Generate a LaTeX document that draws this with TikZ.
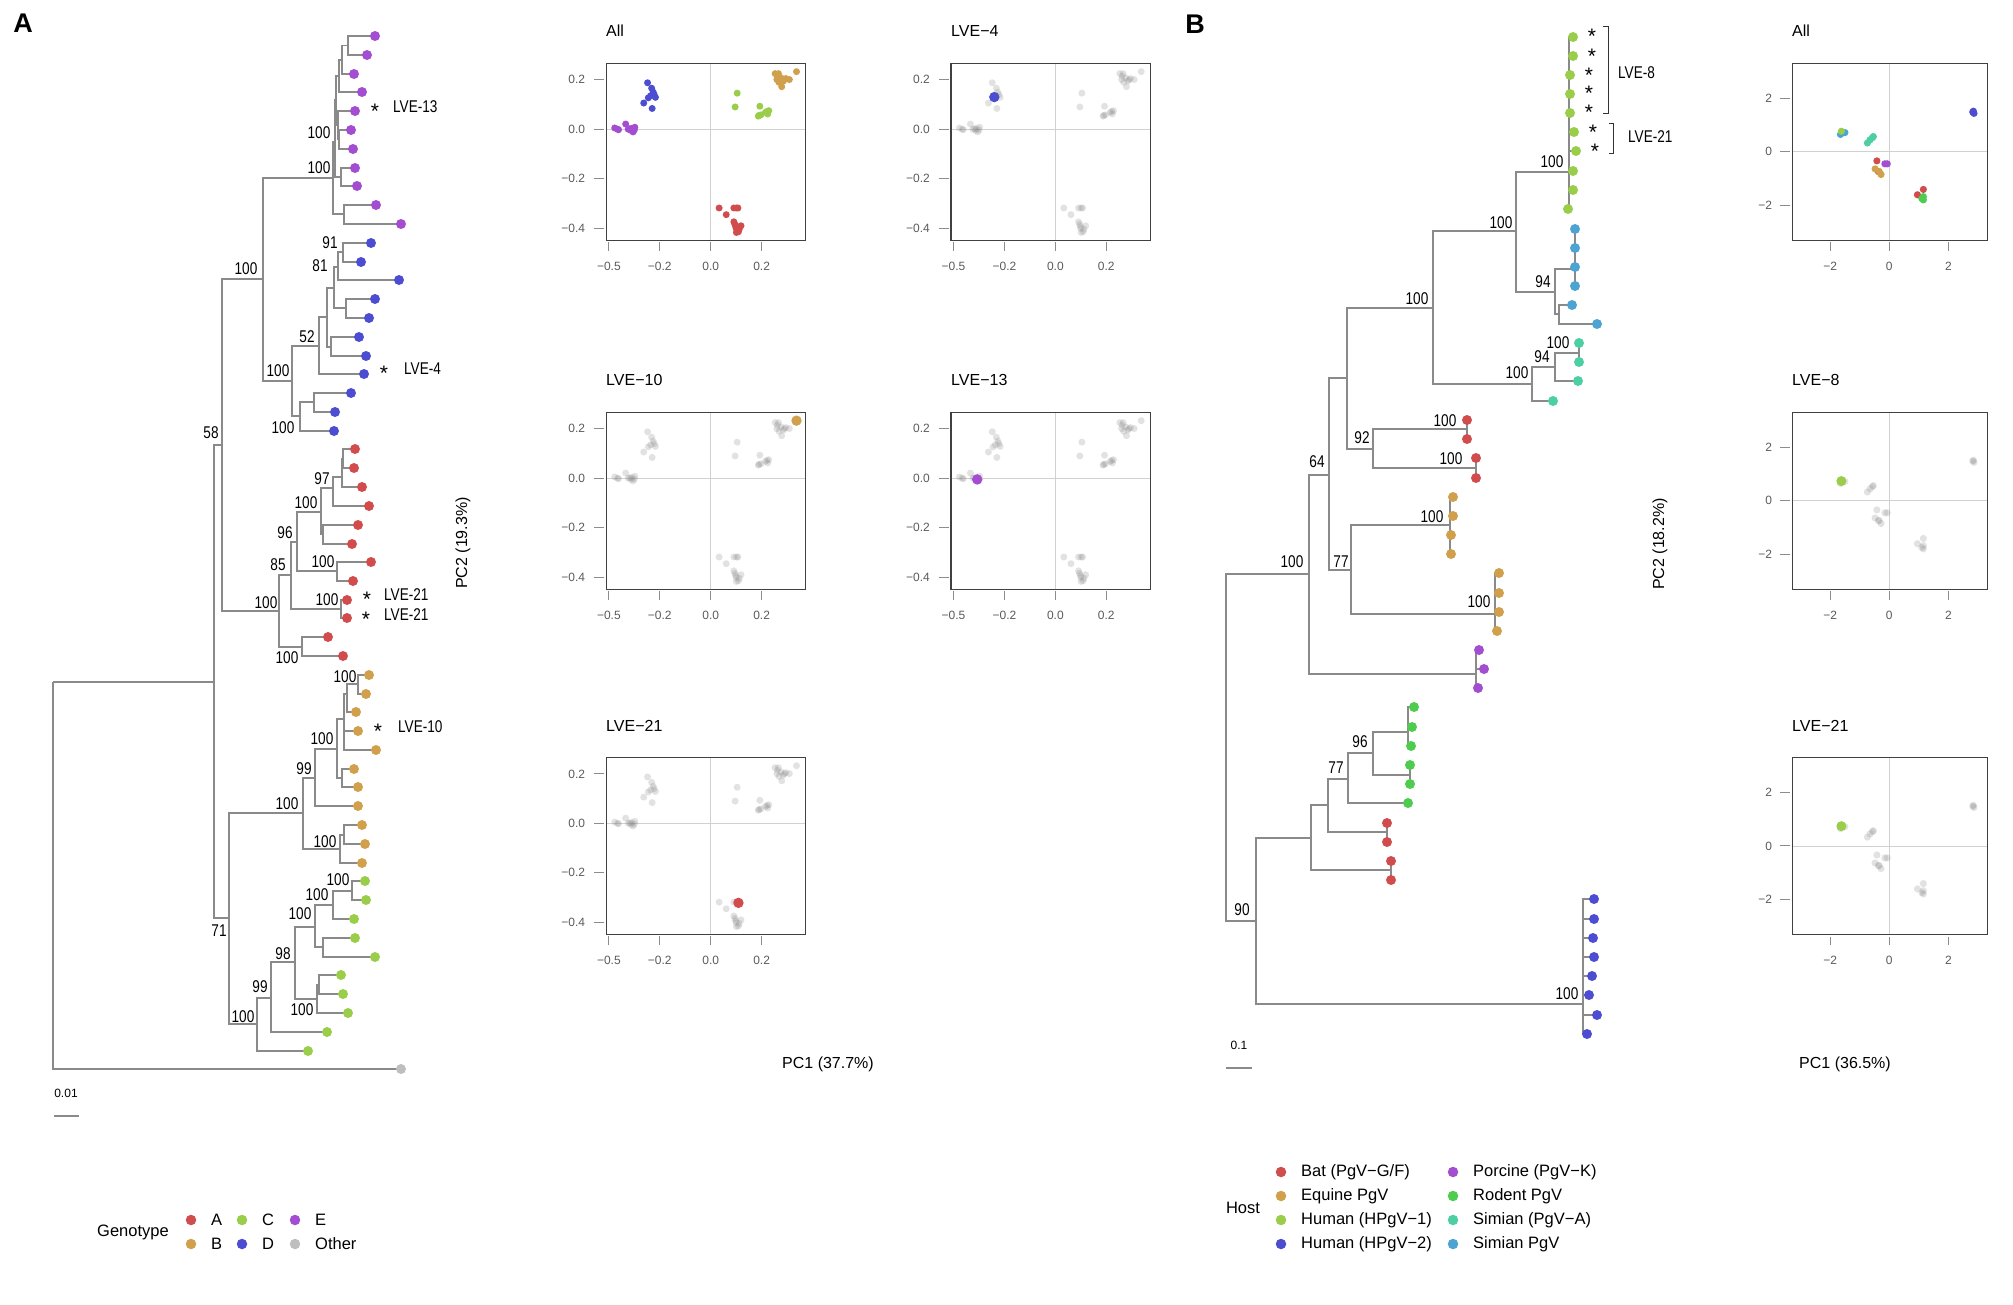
\documentclass[tikz,border=0pt]{standalone}
\usepackage{fontspec}
\setmainfont{Liberation Sans}
\usepackage{tikz}

\definecolor{cA}{HTML}{D14D4D}
\definecolor{cB}{HTML}{D1A04D}
\definecolor{cC}{HTML}{9ACD4A}
\definecolor{cD}{HTML}{4D4DD1}
\definecolor{cE}{HTML}{A34DD1}
\definecolor{cO}{HTML}{BEBEBE}
\definecolor{hRod}{HTML}{4DCC4D}
\definecolor{hSimA}{HTML}{4DCFA3}
\definecolor{hSim}{HTML}{4DA3D1}
\definecolor{branchc}{HTML}{8A8A8A}
\definecolor{tickc}{HTML}{5A5A5A}

% frame, grid and axes of one PCA panel (panel A scale)
\newcommand{\pcaframeA}{%
  \draw[gridln] (0,-0.45) -- (0,0.266) (-0.41,0) -- (0.372,0);
  \draw[frame] (-0.41,-0.45) rectangle (0.372,0.266);
  \foreach \v/\l in {-0.4/−0.5,-0.2/−0.2,0/0.0,0.2/0.2} {
    \draw[tickln] (\v,-0.45) ++(0,-2pt) -- ++(0,-8.5pt);
    \node[ticklab] at ([yshift=-26pt]\v,-0.45) {\l};
  }
  \foreach \v/\l in {0.2/0.2,0/0.0,-0.2/−0.2,-0.4/−0.4} {
    \draw[tickln] (-0.41,\v) ++(-2.3pt,0) -- ++(-10pt,0);
    \node[ticklab,anchor=east] at ([xshift=-21pt]-0.41,\v) {\l};
  }
}
% same for panel B scale
\newcommand{\pcaframeB}{%
  \draw[gridln] (0,-3.32) -- (0,3.30) (-3.28,0) -- (3.31,0);
  \draw[frame] (-3.28,-3.32) rectangle (3.31,3.30);
  \foreach \v/\l in {-2/−2,0/0,2/2} {
    \draw[tickln] (\v,-3.32) ++(0,-2pt) -- ++(0,-8.5pt);
    \node[ticklab] at ([yshift=-26pt]\v,-3.32) {\l};
    \draw[tickln] (-3.28,\v) ++(-2.3pt,0) -- ++(-10pt,0);
    \node[ticklab,anchor=east] at ([xshift=-20pt]-3.28,\v) {\l};
  }
}

% PCA scores
\def\ptsA{-0.248/0.188/cD,-0.232/0.166/cD,-0.226/0.150/cD,-0.236/0.135/cD,-0.217/0.129/cD,-0.245/0.127/cD,-0.263/0.106/cD,-0.230/0.084/cD,-0.222/0.140/cD,
-0.377/0.005/cE,-0.366/0.000/cE,-0.362/-0.002/cE,-0.334/0.021/cE,-0.324/0.000/cE,-0.313/-0.005/cE,-0.305/-0.011/cE,-0.298/0.008/cE,-0.310/0.003/cE,-0.300/-0.003/cE,-0.318/0.002/cE,
0.104/0.146/cC,0.096/0.090/cC,0.193/0.093/cC,0.187/0.053/cC,0.197/0.058/cC,0.221/0.072/cC,0.224/0.062/cC,0.215/0.068/cC,0.190/0.056/cC,0.228/0.075/cC,
0.253/0.225/cB,0.266/0.225/cB,0.276/0.208/cB,0.260/0.201/cB,0.289/0.201/cB,0.309/0.201/cB,0.279/0.172/cB,0.337/0.233/cB,0.268/0.190/cB,0.285/0.195/cB,0.295/0.205/cB,0.262/0.215/cB,
0.033/-0.319/cA,0.061/-0.346/cA,0.091/-0.319/cA,0.101/-0.319/cA,0.107/-0.319/cA,0.091/-0.375/cA,0.119/-0.391/cA,0.098/-0.394/cA,0.101/-0.418/cA,0.109/-0.415/cA,0.100/-0.402/cA,0.095/-0.385/cA,0.112/-0.405/cA}
\def\ptsB{2.82/1.49/cD,2.86/1.44/cD,2.84/1.52/cD,-1.60/0.70/hSim,-1.50/0.72/hSim,-1.65/0.65/hSim,-1.62/0.77/cC,
-0.74/0.33/hSimA,-0.65/0.45/hSimA,-0.54/0.57/hSimA,-0.57/0.53/hSimA,
-0.42/-0.34/cA,-0.37/-0.74/cA,0.95/-1.61/cA,1.15/-1.41/cA,-0.15/-0.45/cE,-0.07/-0.45/cE,
-0.48/-0.64/cB,-0.28/-0.85/cB,-0.34/-0.74/cB,1.15/-1.68/hRod,1.15/-1.80/hRod,1.10/-1.75/hRod}

\begin{document}
\begin{tikzpicture}[x=1pt,y=-1pt,
    branch/.style={draw=branchc,line width=1.1pt},
    tip/.style={circle,inner sep=0pt,minimum size=10pt,draw=none},
    bslab/.style={font=\fontsize{17}{17}\selectfont,inner sep=0pt,xscale=0.8},
    lvelab/.style={font=\fontsize{17}{17}\selectfont,inner sep=0pt,xscale=0.8},
    star/.style={font=\fontsize{21}{21}\selectfont,inner sep=0pt},
    brk/.style={draw=black!80,line width=1pt},
    panel/.style={font=\fontsize{27}{27}\selectfont\bfseries,inner sep=0pt},
    ptitle/.style={font=\fontsize{16}{16}\selectfont,inner sep=0pt},
    axlab/.style={font=\fontsize{16}{16}\selectfont,inner sep=0pt},
    ticklab/.style={font=\fontsize{12}{12}\selectfont,text=tickc,inner sep=0pt},
    frame/.style={draw=black!75,line width=1.1pt},
    gridln/.style={draw=black!18,line width=0.8pt},
    tickln/.style={draw=black!45,line width=0.9pt},
    faded/.style={fill=black!45,opacity=0.25},
    legt/.style={font=\fontsize{16.5}{16.5}\selectfont,inner sep=0pt},
    lgdot/.style={circle,inner sep=0pt,minimum size=10.5pt,draw=none},
    scl/.style={font=\fontsize{12}{12}\selectfont,inner sep=0pt}]
\useasboundingbox (0,0) rectangle (2013,1304);

% ---------------- A: tree ----------------
\node[panel] (pA) at (23,23) {A};

\foreach \n/\x/\y in {1/375/36,2/367/55,3/354/74,4/362/92,5/355/111,6/351/130,7/353/149,8/355/168,9/357/186,10/376/205,11/401/224,
  12/371/243,13/361/262,14/399/280,15/375/299,16/369/318,17/359/337,18/366/356,19/364/374,20/351/393,21/335/412,22/334/431,
  23/355/449,24/354/468,25/362/487,26/369/506,27/358/525,28/352/544,29/371/562,30/353/581,31/347/600,32/347/618,33/328/637,34/343/656,
  35/369/675,36/366/694,37/356/712,38/358/731,39/376/750,40/354/769,41/358/787,42/358/806,43/362/825,44/365/844,45/362/863,
  46/365/881,47/366/900,48/354/919,49/355/938,50/375/957,51/341/975,52/343/994,53/348/1013,54/327/1032,55/308/1051,56/401/1069}
  \coordinate (t\n) at (\x,\y);

\foreach \n/\x/\y in {aR/53/682,aX/214/682,a58/222/445,aPB/263/279,aR0/279/611,aP0/333/178,aBl0/292/381,aPa/335/142,aPb/344/214,
  aPt/336/100,a89/341/177,a1234/339/76,a567/338/125,a123/342/60,a12/348/45.5,a67/339/139.5,
  aBl1/319/346,aBl2/300/416,aBl3/327/317,aBl4/334/288,aBl5/331/347,aBl6/338/267,aBl7/346/308,aBl8/343/252,aBl9/314/402,
  aR1/291/575,aR2/302/647,aR3/297/542,aR4/341/609,aR5/321/512,aR6/337/571,aR7/333/488,aR8/323/534,aR9/342/477,aR10/343/459,
  aBC/229/918,aO0/303/813,aG0/257/1024,aO1/315/778,aO2/340/849,aO3/337/749,aO4/344/719,aO5/342/778,aO8/347/694,aO10/344/740,aO6/358/684,aO11/344/835,
  aG1/271/998,aG2/295/962,aG3/315/927,aG4/317/999,aG5/333/905,aG6/323/947,aG7/352/891,aG8/319/985}
  \coordinate (\n) at (\x,\y);

\foreach \a/\b in {aR/aX,aR/t56,aX/a58,aX/aBC,a58/aPB,a58/aR0,aPB/aP0,aPB/aBl0,aP0/aPa,aP0/aPb,aPa/aPt,aPa/a89,
  aPt/a1234,aPt/a567,a1234/a123,a1234/t4,a123/a12,a123/t3,a12/t1,a12/t2,a567/t5,a567/a67,a67/t6,a67/t7,a89/t8,a89/t9,aPb/t10,aPb/t11,
  aBl0/aBl1,aBl0/aBl2,aBl1/aBl3,aBl1/t19,aBl3/aBl4,aBl3/aBl5,aBl5/t17,aBl5/t18,aBl4/aBl6,aBl4/aBl7,aBl7/t15,aBl7/t16,
  aBl6/aBl8,aBl6/t14,aBl8/t12,aBl8/t13,aBl2/aBl9,aBl2/t22,aBl9/t20,aBl9/t21,
  aR0/aR1,aR0/aR2,aR2/t33,aR2/t34,aR1/aR3,aR1/aR4,aR4/t31,aR4/t32,aR3/aR5,aR3/aR6,aR6/t29,aR6/t30,
  aR5/aR7,aR5/aR8,aR7/aR9,aR7/t26,aR9/aR10,aR9/t25,aR10/t23,aR10/t24,aR8/t27,aR8/t28,
  aBC/aO0,aBC/aG0,aO0/aO1,aO0/aO2,aO1/aO3,aO1/t42,aO3/aO4,aO3/aO5,aO5/t40,aO5/t41,aO4/aO8,aO4/aO10,
  aO10/t38,aO10/t39,aO8/aO6,aO8/t37,aO6/t35,aO6/t36,aO2/aO11,aO2/t45,aO11/t43,aO11/t44,
  aG0/aG1,aG0/t55,aG1/aG2,aG1/t54,aG2/aG3,aG2/aG4,aG3/aG5,aG3/aG6,aG5/aG7,aG5/t48,aG7/t46,aG7/t47,
  aG6/t49,aG6/t50,aG4/aG8,aG4/t53,aG8/t51,aG8/t52}
  \draw[branch] (\a) |- (\b);

\foreach \n in {1,...,11} \node[tip,fill=cE] (da\n) at (t\n) {};
\foreach \n in {12,...,22} \node[tip,fill=cD] (da\n) at (t\n) {};
\foreach \n in {23,...,34} \node[tip,fill=cA] (da\n) at (t\n) {};
\foreach \n in {35,...,45} \node[tip,fill=cB] (da\n) at (t\n) {};
\foreach \n in {46,...,55} \node[tip,fill=cC] (da\n) at (t\n) {};
\node[tip,fill=cO] (da56) at (t56) {};

% bootstrap
\foreach \t/\x/\y [count=\i] in {100/246/269,100/319/133,100/319/168,91/330/243,81/320/266,52/307/337,100/278/371,100/283/428,58/211/433,
  97/322/479,100/306/503,96/285/533,100/323/562,85/278/565,100/327/600,100/266/603,100/287/658,
  100/345/677,100/322/739,99/304/769,100/287/804,100/325/842,100/338/880,100/317/895,100/300/914,71/219/931,
  98/283/954,99/260/987,100/302/1010,100/243/1017}
  \node[bslab] (bsA\i) at (\x,\y) {\t};

\foreach \n/\sx/\y/\tx/\t in {13/375/107/393/LVE-13,4/384/369/404/LVE-4,21a/367/595/384/LVE-21,21b/366/615/384/LVE-21,10/378/727/398/LVE-10} {
  \node[star] (sA\n) at (\sx,\y+4) {*};
  \node[lvelab,anchor=west] (lveA\n) at (\tx,\y) {\t};
}

\node[scl] (sclA) at (66,1093) {0.01};
\draw[branch] (54,1116) -- (79,1116);

% legend A
\node[legt] (genot) at (133,1232) {Genotype};
\foreach \n/\x/\y/\c/\l in {A/191/1220/cA/A,B/191/1244/cB/B,C/242/1220/cC/C,D/242/1244/cD/D,E/295/1220/cE/E,O/295/1244/cO/Other} {
  \node[lgdot,fill=\c] (lg\n) at (\x,\y) {};
  \node[legt,anchor=west] (lgt\n) at ([xshift=20pt]lg\n.center) {\l};
}

% ---------------- A: PCA ----------------
\begin{scope}[shift={(710.7,129.2)},x=254.6pt,y=247pt]
  \pcaframeA
  \foreach \px/\py/\pc in \ptsA {\fill[\pc] (\px,\py) circle (3.5pt);}
\end{scope}
\begin{scope}[shift={(1055.4,129.2)},x=254.6pt,y=247pt]
  \pcaframeA
  \foreach \px/\py/\pc in \ptsA {\fill[faded] (\px,\py) circle (3.5pt);}
  \fill[cD] (-0.240,0.130) circle (5.2pt);
\end{scope}
\begin{scope}[shift={(710.7,478.2)},x=254.6pt,y=247pt]
  \pcaframeA
  \foreach \px/\py/\pc in \ptsA {\fill[faded] (\px,\py) circle (3.5pt);}
  \fill[cB] (0.337,0.233) circle (5.2pt);
\end{scope}
\begin{scope}[shift={(1055.4,478.2)},x=254.6pt,y=247pt]
  \pcaframeA
  \foreach \px/\py/\pc in \ptsA {\fill[faded] (\px,\py) circle (3.5pt);}
  \fill[cE] (-0.307,-0.005) circle (5.2pt);
\end{scope}
\begin{scope}[shift={(710.7,823.3)},x=254.6pt,y=247pt]
  \pcaframeA
  \foreach \px/\py/\pc in \ptsA {\fill[faded] (\px,\py) circle (3.5pt);}
  \fill[cA] (0.109,-0.322) circle (5.2pt);
\end{scope}
\node[ptitle,anchor=west] (ttA1) at (606,31) {All};
\node[ptitle,anchor=west] (ttA2) at (951,31) {LVE−4};
\node[ptitle,anchor=west] (ttA3) at (606,380) {LVE−10};
\node[ptitle,anchor=west] (ttA4) at (951,380) {LVE−13};
\node[ptitle,anchor=west] (ttA5) at (606,726) {LVE−21};
\node[axlab,rotate=90] (pc2A) at (463,543) {PC2 (19.3\%)};
\node[axlab] (pc1A) at (828,1064) {PC1 (37.7\%)};

% ---------------- B: tree ----------------
\node[panel] (pB) at (1195,24) {B};

\foreach \n/\x/\y in {1/1573/37,2/1573/56,3/1570/75,4/1570/94,5/1570/113,6/1574/132,7/1576/151,8/1573/171,9/1573/190,10/1568/209,
  11/1575/229,12/1575/248,13/1575/267,14/1575/286,15/1572/305,16/1597/324,17/1579/343,18/1579/362,19/1578/381,20/1553/401,
  21/1467/420,22/1467/439,23/1476/458,24/1476/478,25/1453/497,26/1453/516,27/1451/535,28/1451/554,
  29/1499/573,30/1499/593,31/1499/612,32/1497/631,33/1479/650,34/1484/669,35/1478/688,
  36/1414/707,37/1412/727,38/1411/746,39/1410/765,40/1410/784,41/1408/803,42/1387/823,43/1387/842,44/1391/861,45/1391/880,
  46/1594/899,47/1594/919,48/1593/938,49/1594/957,50/1592/976,51/1589/995,52/1597/1015,53/1587/1034}
  \coordinate (u\n) at (\x,\y);

\foreach \n/\x/\y in {bR/1226/747,bU1/1309/574,bL1/1256/921,bU2/1329/475,bPor/1476/674,bU3/1347/378,bEq/1351/570,
  bU4/1433/308,bBat1/1373/449,bBatA/1467/429,bBatB/1476/468,bU5/1516/231,bTl/1532/384,bTl2/1555/367,bTl3/1579/353,
  bHP1/1569/172,bSb/1555/292,bSb1/1575/269,bSb2/1559/314,bEqA/1450/525,bEqB/1495/614,
  bL2/1311/838,bHP2/1583/1004,bL3/1328/805,bBat2/1391/870,bRa/1348/779,bBat3/1387/832,bRb/1373/753,bRc/1408/732,bRd/1410/775}
  \coordinate (\n) at (\x,\y);

\foreach \a/\b in {bR/bU1,bR/bL1,bU1/bU2,bU1/bPor,bPor/u33,bPor/u34,bPor/u35,bU2/bU3,bU2/bEq,bU3/bU4,bU3/bBat1,
  bBat1/bBatA,bBat1/bBatB,bBatA/u21,bBatA/u22,bBatB/u23,bBatB/u24,bU4/bU5,bU4/bTl,bTl/bTl2,bTl/u20,bTl2/bTl3,bTl2/u19,
  bTl3/u17,bTl3/u18,bU5/bHP1,bU5/bSb,bSb/bSb1,bSb/bSb2,bSb2/u15,bSb2/u16,bEq/bEqA,bEq/bEqB,
  bL1/bL2,bL1/bHP2,bL2/bL3,bL2/bBat2,bBat2/u44,bBat2/u45,bL3/bRa,bL3/bBat3,bBat3/u42,bBat3/u43,
  bRa/bRb,bRa/u41,bRb/bRc,bRb/bRd,bRc/u36,bRc/u37,bRc/u38,bRd/u39,bRd/u40}
  \draw[branch] (\a) |- (\b);
\foreach \n in {1,...,10} \draw[branch] (bHP1) |- (u\n);
\foreach \n in {11,...,14} \draw[branch] (bSb1) |- (u\n);
\foreach \n in {25,...,28} \draw[branch] (bEqA) |- (u\n);
\foreach \n in {29,...,32} \draw[branch] (bEqB) |- (u\n);
\foreach \n in {46,...,53} \draw[branch] (bHP2) |- (u\n);

\foreach \n in {1,...,10} \node[tip,fill=cC] (db\n) at (u\n) {};
\foreach \n in {11,...,16} \node[tip,fill=hSim] (db\n) at (u\n) {};
\foreach \n in {17,...,20} \node[tip,fill=hSimA] (db\n) at (u\n) {};
\foreach \n in {21,...,24} \node[tip,fill=cA] (db\n) at (u\n) {};
\foreach \n in {25,...,32} \node[tip,fill=cB] (db\n) at (u\n) {};
\foreach \n in {33,...,35} \node[tip,fill=cE] (db\n) at (u\n) {};
\foreach \n in {36,...,41} \node[tip,fill=hRod] (db\n) at (u\n) {};
\foreach \n in {42,...,45} \node[tip,fill=cA] (db\n) at (u\n) {};
\foreach \n in {46,...,53} \node[tip,fill=cD] (db\n) at (u\n) {};

% bootstrap
\foreach \t/\x/\y [count=\i] in {100/1292/562,90/1242/910,64/1317/462,100/1417/299,92/1362/438,100/1445/421,100/1451/459,
  100/1501/223,100/1552/162,94/1543/282,100/1517/373,94/1542/357,100/1558/343,77/1341/562,100/1432/517,100/1479/602,
  77/1336/768,96/1360/742,100/1567/994}
  \node[bslab] (bsB\i) at (\x,\y) {\t};

\foreach \x/\y [count=\i] in {1592/32,1592/52,1589/71,1589/89,1589/108,1593/128,1595/147}
  \node[star] (sB\i) at (\x,\y+4) {*};
\draw[brk] (1603,26) -- (1608,26) -- (1608,113) -- (1603,113);
\draw[brk] (1609,123) -- (1613,123) -- (1613,153) -- (1609,153);
\node[lvelab,anchor=west] (lveB8) at (1618,73) {LVE-8};
\node[lvelab,anchor=west] (lveB21) at (1628,137) {LVE-21};

\node[scl] (sclB) at (1239,1045) {0.1};
\draw[branch] (1226,1068) -- (1252,1068);

% legend B
\node[legt] (host) at (1243,1208) {Host};
\foreach \n/\x/\y/\c/\l in {1/1281/1172/cA/{Bat (PgV−G/F)},2/1281/1196/cB/{Equine PgV},3/1281/1220/cC/{Human (HPgV−1)},4/1281/1244/cD/{Human (HPgV−2)},
  5/1453/1172/cE/{Porcine (PgV−K)},6/1453/1196/hRod/{Rodent PgV},7/1453/1220/hSimA/{Simian (PgV−A)},8/1453/1244/hSim/{Simian PgV}} {
  \node[lgdot,fill=\c] (hg\n) at (\x,\y) {};
  \node[legt,anchor=west] (hgt\n) at ([xshift=20pt]hg\n.center) {\l};
}

% ---------------- B: PCA ----------------
\begin{scope}[shift={(1889.3,151.8)},x=29.6pt,y=26.7pt]
  \pcaframeB
  \foreach \px/\py/\pc in \ptsB {\fill[\pc] (\px,\py) circle (3.6pt);}
\end{scope}
\begin{scope}[shift={(1889.3,500.8)},x=29.6pt,y=26.7pt]
  \pcaframeB
  \foreach \px/\py/\pc in \ptsB {\fill[faded] (\px,\py) circle (3.6pt);}
  \fill[cC] (-1.62,0.74) circle (5pt);
\end{scope}
\begin{scope}[shift={(1889.3,845.9)},x=29.6pt,y=26.7pt]
  \pcaframeB
  \foreach \px/\py/\pc in \ptsB {\fill[faded] (\px,\py) circle (3.6pt);}
  \fill[cC] (-1.62,0.74) circle (5pt);
\end{scope}
\node[ptitle,anchor=west] (ttB1) at (1792,31) {All};
\node[ptitle,anchor=west] (ttB2) at (1792,380) {LVE−8};
\node[ptitle,anchor=west] (ttB3) at (1792,726) {LVE−21};
\node[axlab,rotate=90] (pc2B) at (1660,544) {PC2 (18.2\%)};
\node[axlab] (pc1B) at (1845,1064) {PC1 (36.5\%)};
\end{tikzpicture}
\end{document}
